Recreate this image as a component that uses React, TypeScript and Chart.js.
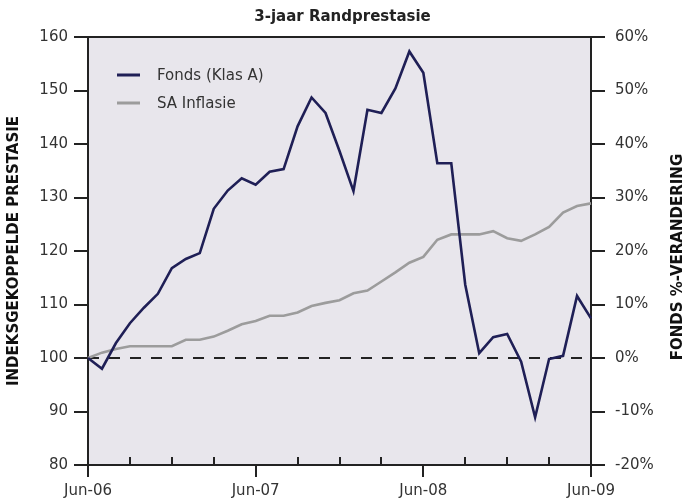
import React, { useEffect, useRef } from 'react';
import { Chart, registerables } from 'chart.js';

Chart.register(...registerables);

const months = [
  'Jun-06', 'Jul-06', 'Aug-06', 'Sep-06', 'Oct-06', 'Nov-06', 'Dec-06',
  'Jan-07', 'Feb-07', 'Mar-07', 'Apr-07', 'May-07', 'Jun-07', 'Jul-07',
  'Aug-07', 'Sep-07', 'Oct-07', 'Nov-07', 'Dec-07', 'Jan-08', 'Feb-08',
  'Mar-08', 'Apr-08', 'May-08', 'Jun-08', 'Jul-08', 'Aug-08', 'Sep-08',
  'Oct-08', 'Nov-08', 'Dec-08', 'Jan-09', 'Feb-09', 'Mar-09', 'Apr-09',
  'May-09', 'Jun-09',
];
const xTickLabels = ['Jun-06', 'Jun-07', 'Jun-08', 'Jun-09'];

const fonds = [
  100, 98, 102.8, 106.5, 109.4, 112, 116.8, 118.5, 119.6, 127.9, 131.3, 133.6,
  132.4, 134.8, 135.3, 143.3, 148.7, 145.8, 138.7, 131.2, 146.4, 145.8, 150.4,
  157.3, 153.3, 136.4, 136.4, 113.7, 100.9, 103.9, 104.5, 99.3, 88.9, 99.8,
  100.4, 111.6, 107.4,
];
const inflation = [
  100, 101, 101.7, 102.2, 102.2, 102.2, 102.2, 103.4, 103.4, 104, 105.1, 106.3,
  106.9, 107.9, 107.9, 108.5, 109.7, 110.3, 110.8, 112.1, 112.6, 114.3, 116,
  117.8, 118.9, 122.1, 123.1, 123.1, 123.1, 123.7, 122.4, 121.9, 123.1, 124.5,
  127.2, 128.4, 128.9,
];

const seriesNames = ['Fonds (Klas A)', 'SA Inflasie'];
const leftRange = [80, 160];
const rightRange = [-20, 60];
const tickStep = 10;
const baseLevel = 100;

const chartTitle = '3-jaar Randprestasie';
const leftTitle = 'INDEKSGEKOPPELDE PRESTASIE';
const rightTitle = 'FONDS %-VERANDERING';

const FONT = "'DejaVu Sans', Verdana, sans-serif";
const AXIS = '#222222';
const TEXT = '#333333';

const decor = {
  id: 'decor',
  beforeDraw(chart: any) {
    const { ctx, chartArea: a } = chart;
    ctx.save();
    ctx.fillStyle = '#e8e6ec';
    ctx.fillRect(a.left, a.top, a.right - a.left, a.bottom - a.top);
    ctx.restore();
  },
  beforeDatasetsDraw(chart: any) {
    const { ctx, chartArea: a } = chart;
    const y = chart.scales.y.getPixelForValue(baseLevel);
    ctx.save();
    ctx.strokeStyle = AXIS;
    ctx.lineWidth = 2;
    ctx.setLineDash([11, 10]);
    ctx.beginPath();
    ctx.moveTo(a.left, y);
    ctx.lineTo(a.right, y);
    ctx.stroke();
    ctx.restore();
  },
  afterDraw(chart: any) {
    const { ctx, chartArea: a } = chart;
    const xs = chart.scales.x;
    ctx.save();
    // top border
    ctx.strokeStyle = AXIS;
    ctx.lineWidth = 2;
    ctx.beginPath();
    ctx.moveTo(a.left - 1, a.top);
    ctx.lineTo(a.right + 1, a.top);
    ctx.stroke();
    // quarterly inner ticks
    ctx.beginPath();
    for (let i = 0; i < months.length; i++) {
      if (i % 3 === 0 && i % 12 !== 0) {
        const x = Math.round(xs.getPixelForValue(i));
        ctx.moveTo(x, a.bottom);
        ctx.lineTo(x, a.bottom - 8);
      }
    }
    ctx.stroke();
    // legend
    ctx.font = `15px ${FONT}`;
    ctx.textBaseline = 'middle';
    ctx.textAlign = 'left';
    chart.data.datasets.forEach((ds: any, i: number) => {
      const y = a.top + 38 + i * 28;
      ctx.strokeStyle = ds.borderColor;
      ctx.lineWidth = 3;
      ctx.beginPath();
      ctx.moveTo(a.left + 29, y);
      ctx.lineTo(a.left + 52, y);
      ctx.stroke();
      ctx.fillStyle = TEXT;
      ctx.fillText(ds.label, a.left + 69, y + 1);
    });
    // right axis title (reads bottom to top)
    ctx.translate(678, (a.top + a.bottom) / 2 + 6);
    ctx.rotate(-Math.PI / 2);
    ctx.font = `bold 15px ${FONT}`;
    ctx.fillStyle = '#111';
    ctx.textAlign = 'center';
    ctx.textBaseline = 'middle';
    ctx.fillText(rightTitle, 0, 0);
    ctx.restore();
  },
};

export default function App() {
  const ref = useRef<HTMLCanvasElement | null>(null);

  useEffect(() => {
    if (!ref.current) return;
    const chart = new Chart(ref.current, {
      type: 'line',
      data: {
        labels: months,
        datasets: [
          {
            label: seriesNames[0],
            data: fonds,
            borderColor: '#1f1f56',
            borderWidth: 2.6,
            pointRadius: 0,
            tension: 0,
            yAxisID: 'y',
          },
          {
            label: seriesNames[1],
            data: inflation,
            borderColor: '#9c9c9c',
            borderWidth: 2.6,
            pointRadius: 0,
            tension: 0,
            yAxisID: 'y',
          },
        ],
      },
      options: {
        animation: false,
        responsive: false,
        maintainAspectRatio: false,
        devicePixelRatio: 1,
        layout: { padding: 0 },
        plugins: {
          legend: { display: false },
          tooltip: { enabled: false },
          title: {
            display: true,
            text: chartTitle,
            color: '#222',
            font: { family: FONT, size: 15, weight: 'bold' },
            padding: { top: 8, bottom: 11 },
          },
        },
        scales: {
          x: {
            type: 'category',
            offset: false,
            grid: {
              display: true,
              drawOnChartArea: false,
              drawTicks: true,
              tickLength: 12,
              lineWidth: 2,
              color: (c: any) => (c.index % 12 === 0 ? AXIS : 'rgba(0,0,0,0)'),
            },
            border: { display: true, color: AXIS, width: 2 },
            ticks: {
              autoSkip: false,
              maxRotation: 0,
              minRotation: 0,
              padding: 5,
              color: TEXT,
              font: { family: FONT, size: 15 },
              callback: (_v: any, i: number) => (i % 12 === 0 ? xTickLabels[i / 12] : ''),
            },
            afterFit: (s: any) => {
              s.height = 36;
            },
          },
          y: {
            position: 'left',
            min: leftRange[0],
            max: leftRange[1],
            grid: {
              drawOnChartArea: false,
              tickLength: 14,
              lineWidth: 2,
              color: AXIS,
            },
            border: { display: true, color: AXIS, width: 2 },
            ticks: {
              stepSize: tickStep,
              padding: 6,
              color: TEXT,
              font: { family: FONT, size: 15 },
            },
            title: {
              display: true,
              text: leftTitle,
              color: '#111',
              font: { family: FONT, size: 15, weight: 'bold' },
              padding: { top: 5, bottom: 0 },
            },
            afterFit: (s: any) => {
              s.width = 88;
            },
          },
          y2: {
            position: 'right',
            min: rightRange[0],
            max: rightRange[1],
            grid: {
              drawOnChartArea: false,
              tickLength: 14,
              lineWidth: 2,
              color: AXIS,
            },
            border: { display: true, color: AXIS, width: 2 },
            ticks: {
              stepSize: tickStep,
              padding: 10,
              color: TEXT,
              font: { family: FONT, size: 15 },
              callback: (v: any) => `${v}%`,
            },
            afterFit: (s: any) => {
              s.width = 94;
            },
          },
        },
      },
      plugins: [decor],
    });
    return () => chart.destroy();
  }, []);

  return (
    <div style={{ position: 'absolute', left: 0, top: 0, width: 685, height: 501, background: '#fff' }}>
      <canvas ref={ref} width={685} height={501} style={{ width: 685, height: 501, display: 'block' }} />
    </div>
  );
}
